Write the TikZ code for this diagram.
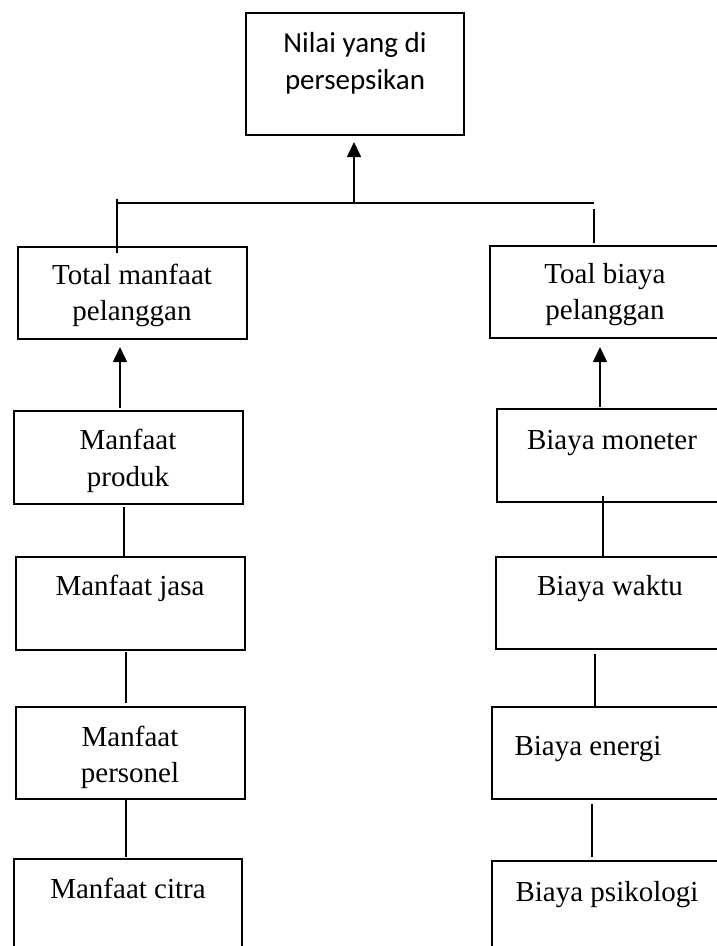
\documentclass[tikz,border=0pt]{standalone}
\usepackage{fontspec}
\setmainfont{Liberation Serif}
\newfontfamily\sansf{Carlito}
\usetikzlibrary{arrows.meta}
\begin{document}
\begin{tikzpicture}[x=1pt,y=-1pt,
  box/.style={draw, line width=1.6pt, inner sep=0pt, outer sep=0pt, anchor=north west},
  txt/.style={inner sep=0pt, anchor=base, font=\fontsize{29}{34}\selectfont},
  stxt/.style={inner sep=0pt, anchor=base, font=\sansf\fontsize{29}{34}\selectfont},
  conn/.style={line width=1.6pt},
  arr/.style={line width=1.6pt, -{Triangle[width=14pt,length=15pt]}}]
\useasboundingbox (0,0) rectangle (717,946);
\clip (0,0) rectangle (717,946);
\fill[white] (0,0) rectangle (717,946);
% boxes
\node[box, minimum width=218pt, minimum height=122pt] (top) at (246,13) {};
\node[box, minimum width=229pt, minimum height=92pt] (TM) at (18,247) {};
\node[box, minimum width=240pt, minimum height=92pt] (TB) at (490,246) {};
\node[box, minimum width=229pt, minimum height=93pt] (MP) at (14,411) {};
\node[box, minimum width=229pt, minimum height=93pt] (MJ) at (16,557) {};
\node[box, minimum width=229pt, minimum height=92pt] (MPe) at (16,707) {};
\node[box, minimum width=228pt, minimum height=110pt] (MC) at (14,859) {};
\node[box, minimum width=240pt, minimum height=93pt] (BM) at (497,409) {};
\node[box, minimum width=240pt, minimum height=92pt] (BW) at (496,557) {};
\node[box, minimum width=240pt, minimum height=92pt] (BE) at (492,707) {};
\node[box, minimum width=240pt, minimum height=110pt] (BP) at (492,861) {};
% texts
\node[stxt] (t0a) at (355,52) {Nilai yang di};
\node[stxt] (t0b) at (355,89) {persepsikan};
\node[txt] (tTMa) at (132,284) {Total manfaat};
\node[txt] (tTMb) at (132,320) {pelanggan};
\node[txt] (tTBa) at (605,283) {Toal biaya};
\node[txt] (tTBb) at (605,319) {pelanggan};
\node[txt] (tMPa) at (128,449) {Manfaat};
\node[txt] (tMPb) at (128,486) {produk};
\node[txt] (tMJ) at (130,595) {Manfaat jasa};
\node[txt] (tMPea) at (130,746) {Manfaat};
\node[txt] (tMPeb) at (130,782) {personel};
\node[txt] (tMC) at (128,898) {Manfaat citra};
\node[txt] (tBM) at (612,449) {Biaya moneter};
\node[txt] (tBW) at (610,595) {Biaya waktu};
\node[txt] (tBE) at (588,755) {Biaya energi};
\node[txt] (tBP) at (607,901) {Biaya psikologi};
% junction
\coordinate (jl) at (117,203);
\coordinate (jm) at (354,203);
\coordinate (jr) at (594,203);
\draw[conn] (jl) -- (jr);
\draw[arr] (jm) -- ([yshift=-7pt]top.south -| jm);
\draw[conn] ([yshift=4pt]jl) -- ([yshift=-6pt]TM.north -| jl);
\draw[conn] ([yshift=-6pt]jr) -- ([yshift=3pt]TB.north -| jr);
% left column
\draw[arr] ([xshift=-8.5pt,yshift=3pt]MP.north) -- ([xshift=-12.5pt,yshift=-8pt]TM.south);
\draw[conn] ([xshift=-4.5pt,yshift=-3pt]MP.south) -- ([xshift=-6.5pt]MJ.north);
\draw[conn] ([xshift=-4.5pt,yshift=-2pt]MJ.south) -- ([xshift=-4.5pt,yshift=4pt]MPe.north);
\draw[conn] ([xshift=-4.5pt,yshift=1pt]MPe.south) -- ([xshift=-2pt,yshift=2pt]MC.north);
% right column
\draw[arr] ([xshift=-17pt,yshift=2pt]BM.north) -- ([xshift=-10pt,yshift=-9pt]TB.south);
\draw[conn] ([xshift=-14pt,yshift=6pt]BM.south) -- ([xshift=-13pt]BW.north);
\draw[conn] ([xshift=-21pt,yshift=-5pt]BW.south) -- ([xshift=-17pt]BE.north);
\draw[conn] ([xshift=-20pt,yshift=-5pt]BE.south) -- ([xshift=-20pt,yshift=4pt]BP.north);
\end{tikzpicture}
\end{document}
